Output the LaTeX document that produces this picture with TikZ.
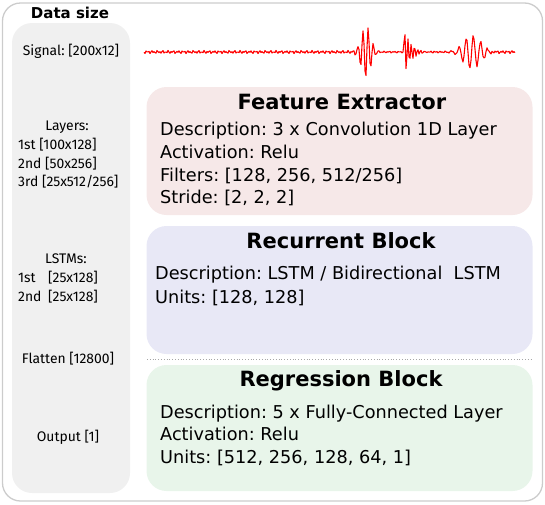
\documentclass[tikz,border=0pt]{standalone}
\usepackage{fontspec}
\setmainfont{DejaVu Sans}
\newfontfamily\tfont{Fira Sans}
\frenchspacing
\definecolor{framegray}{HTML}{CCCCCC}
\definecolor{colgray}{HTML}{F0F0F0}
\definecolor{pinkbg}{HTML}{F6E8E8}
\definecolor{bluebg}{HTML}{E8E8F6}
\definecolor{greenbg}{HTML}{E8F5EA}
\tikzset{
  blockbox/.style={rounded corners=20pt, inner sep=0pt, draw=none},
  titletext/.style={font=\bfseries\fontsize{21}{24}\selectfont, anchor=base, inner sep=0pt},
  bodytext/.style={font=\fontsize{17.7}{22}\selectfont, anchor=base west, inner sep=0pt},
  sidetext/.style={font=\tfont\fontsize{13.9}{16}\selectfont, inner sep=0pt},
}
\begin{document}
\begin{tikzpicture}[x=1pt,y=-1pt]
\useasboundingbox (0,0) rectangle (545,504);
% outer frame
\node[draw=framegray, line width=1.3pt, rounded corners=18pt, minimum width=540pt, minimum height=498pt, inner sep=0pt] (frame) at (272.5,252) {};
% left column
\node[blockbox, fill=colgray, minimum width=118pt, minimum height=470pt] (col) at (71,258) {};
\node[font=\bfseries\fontsize{15}{17}\selectfont, inner sep=0pt] (ds) at (70,13) {Data size};
\node[sidetext] (sig) at (71,51) {Signal: [200x12]};
\node[sidetext] (lay) at (67,127) {Layers:};
\node[sidetext, anchor=west] (l1) at (18,145) {1st [100x128]};
\node[sidetext, anchor=west] (l2) at (18,163.5) {2nd [50x256]};
\node[sidetext, anchor=west] (l3) at (18,182) {3rd [25x512/256]};
\node[sidetext] (ls) at (66,259) {LSTMs:};
\node[sidetext, anchor=west] (s1) at (18,278) {\makebox[30pt][l]{1st}[25x128]};
\node[sidetext, anchor=west] (s2) at (18,297) {\makebox[30pt][l]{2nd}[25x128]};
\node[sidetext] (fl) at (68,359) {Flatten [12800]};
\node[sidetext] (out) at (68,437) {Output [1]};
% blocks
\node[blockbox, fill=pinkbg, minimum width=386pt, minimum height=128pt] (fe) at (339.5,151) {};
\node[blockbox, fill=bluebg, minimum width=386pt, minimum height=128pt] (rb) at (339.5,290) {};
\node[blockbox, fill=greenbg, minimum width=386pt, minimum height=126pt] (rg) at (339.5,428) {};
\coordinate (dl) at (147,359);
\coordinate (dr) at (532,359);
\draw[gray!70, dotted, line width=0.8pt] (dl) -- (dr);
% Feature extractor
\node[titletext] (fet) at (342,109) {Feature Extractor};
\node[bodytext] (fe1) at (160,135.5) {Description: 3 x Convolution 1D Layer};
\node[bodytext] (fe2) at (160,158.5) {Activation: Relu};
\node[bodytext] (fe3) at (160,181.5) {Filters: [128, 256, 512/256]};
\node[bodytext] (fe4) at (160,203.5) {Stride: [2, 2, 2]};
% Recurrent
\node[titletext] (rbt) at (341,248) {Recurrent Block};
\node[bodytext] (rb1) at (155,279.5) {Description: LSTM / Bidirectional\ \ LSTM};
\node[bodytext] (rb2) at (155,303.5) {Units: [128, 128]};
% Regression
\node[titletext] (rgt) at (341,386.5) {Regression Block};
\node[bodytext] (rg1) at (160,418.5) {Description: 5 x Fully-Connected Layer};
\node[bodytext] (rg2) at (160,440.5) {Activation: Relu};
\node[bodytext] (rg3) at (160,463.5) {Units: [512, 256, 128, 64, 1]};
% signal
\draw[red, line width=1.1pt, line join=round] plot[domain=0:371, samples=372, variable=\t]
 ({144+\t}, {52
   + (1.0*sin(mod(\t,36)*130) + 0.7*sin(mod(\t,36)*70+40))*(1-0.4*(\t>220)*(\t<330))
   + 26*exp(-min(((\t-222)/6.5)^2,15))*sin(mod(\t,36)*70+60)
   + 27*(\t>259)*exp(-min(max(\t-260,0)/6,15))*sin(mod(\t,36)*110+40)
   + 17*exp(-min(((\t-328)/12)^2,15))*sin(mod(\t,36)*50)
 });
\end{tikzpicture}
\end{document}
